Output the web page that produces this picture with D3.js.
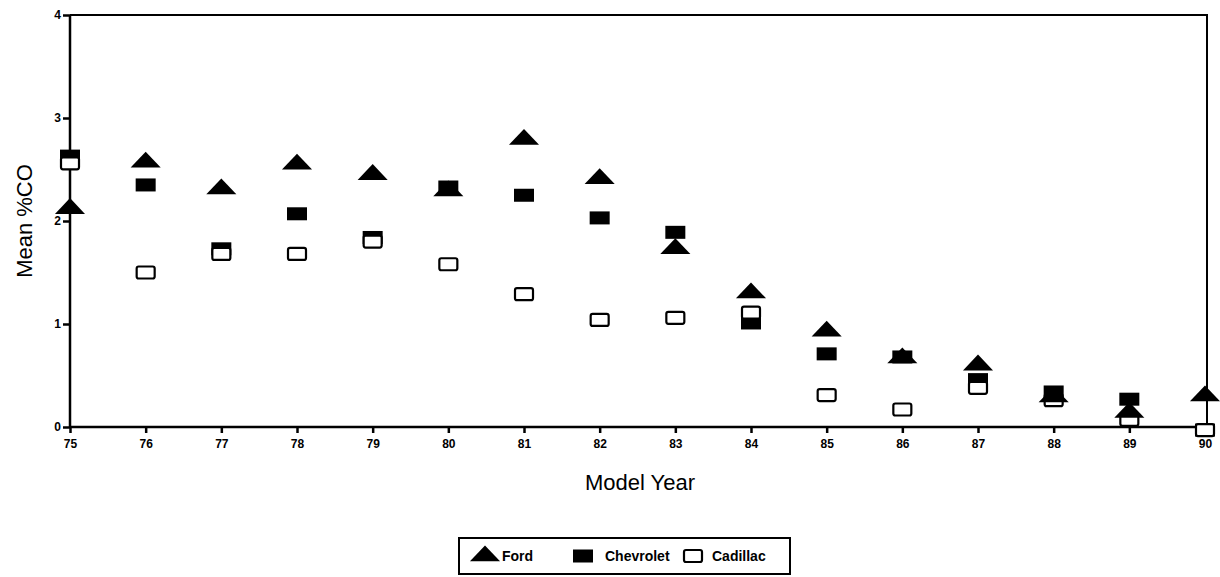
<!DOCTYPE html>
<html>
<head>
<meta charset="utf-8"/>
<script src="https://d3js.org/d3.v7.min.js"></script>
<style>
  body { margin: 0; background: #fff; }
  text { font-family: "Liberation Sans", Arial, sans-serif; }
</style>
</head>
<body>
<svg id="chart" width="1220" height="577"></svg>
<script>
var years = [75, 76, 77, 78, 79, 80, 81, 82, 83, 84, 85, 86, 87, 88, 89, 90];
var ford = [2.13, 2.58, 2.32, 2.56, 2.46, 2.3, 2.8, 2.42, 1.74, 1.31, 0.94, 0.68, 0.61, 0.3, 0.15, 0.31];
var chevrolet = [2.63, 2.35, 1.73, 2.07, 1.84, 2.33, 2.25, 2.03, 1.89, 1.01, 0.71, 0.68, 0.46, 0.34, 0.27, -0.03];
var cadillac = [2.56, 1.5, 1.68, 1.68, 1.8, 1.58, 1.29, 1.04, 1.06, 1.11, 0.31, 0.17, 0.38, 0.26, 0.07, -0.03];
var yTicks = [0, 1, 2, 3, 4];

(function() {
var svg = d3.select("#chart");
var pLeft = 70, pRight = 1207, pTop = 15, pBottom = 427;

var x = d3.scaleLinear().domain([75, 90]).range([pLeft, 1205]);
var y = d3.scaleLinear().domain([0, 4]).range([pBottom, pTop]);

// frame
svg.append("path")
    .attr("d", "M" + pLeft + "," + pTop + "H" + pRight + "V" + pBottom)
    .attr("fill", "none").attr("stroke", "#000").attr("stroke-width", 2);

var gx = svg.append("g")
    .attr("transform", "translate(0," + pBottom + ")")
    .call(d3.axisBottom(x).tickValues(years).tickSize(6).tickPadding(6).tickFormat(d3.format("d")));
var gy = svg.append("g")
    .attr("transform", "translate(" + pLeft + ",0)")
    .call(d3.axisLeft(y).tickValues(yTicks).tickSize(7).tickPadding(2).tickFormat(d3.format("d")));
[gx, gy].forEach(function(g) {
  g.selectAll("path, line").attr("stroke", "#000").attr("stroke-width", 2.5);
  g.selectAll("text").attr("fill", "#000").style("font-size", "12px").style("font-weight", "bold");
});
gx.select(".domain").attr("d", "M" + pLeft + ",0H" + pRight);
gy.select(".domain").attr("d", "M0," + pTop + "V" + pBottom);

svg.append("text").attr("x", 640).attr("y", 490).attr("text-anchor", "middle")
    .style("font-size", "22px").text("Model Year");
svg.append("text").attr("transform", "translate(32,221) rotate(-90)").attr("text-anchor", "middle")
    .style("font-size", "22px").text("Mean %CO");

var tri = d3.symbol().type(d3.symbolTriangle).size(200);

function drawCad(g, px, py) {
  g.append("rect").attr("x", px - 9).attr("y", py - 6).attr("width", 18).attr("height", 12).attr("rx", 2)
      .attr("fill", "#fff").attr("stroke", "#000").attr("stroke-width", 2.2);
}
function drawChev(g, px, py) {
  g.append("rect").attr("x", px - 10).attr("y", py - 6.5).attr("width", 20).attr("height", 13).attr("fill", "#000");
}
function drawFord(g, px, py) {
  g.append("path").attr("d", tri).attr("transform", "translate(" + px + "," + (py + 1) + ") scale(1.4,0.85)").attr("fill", "#000");
}

var marks = svg.append("g");
years.forEach(function(yr, i) { drawChev(marks, x(yr), y(chevrolet[i])); });
years.forEach(function(yr, i) { drawCad(marks, x(yr), y(cadillac[i])); });
years.forEach(function(yr, i) { drawFord(marks, x(yr), y(ford[i])); });

// legend
var lg = svg.append("g");
lg.append("rect").attr("x", 459).attr("y", 538).attr("width", 331).attr("height", 36)
    .attr("fill", "none").attr("stroke", "#000").attr("stroke-width", 2);
drawFord(lg, 485, 555);
lg.append("text").attr("x", 502).attr("y", 561).style("font-size", "14px").style("font-weight", "bold").text("Ford");
drawChev(lg, 583, 556);
lg.append("text").attr("x", 605).attr("y", 561).style("font-size", "14px").style("font-weight", "bold").text("Chevrolet");
drawCad(lg, 693, 556);
lg.append("text").attr("x", 712).attr("y", 561).style("font-size", "14px").style("font-weight", "bold").text("Cadillac");
})();
</script>
</body>
</html>
